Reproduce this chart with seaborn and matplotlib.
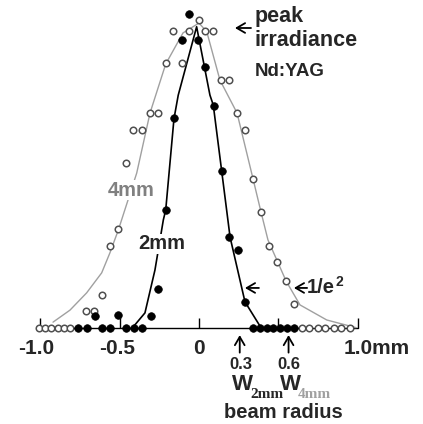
import matplotlib
matplotlib.use("Agg")
import matplotlib.pyplot as plt
import seaborn as sns
import pandas as pd

# fitted profile lines (beam radius in mm, normalised irradiance)
fit_4mm_x = [-0.921, -0.814, -0.709, -0.614, -0.562, -0.509, -0.393, -0.309, -0.210, -0.101, 0.0,
             0.049, 0.132, 0.240, 0.341, 0.391, 0.435, 0.549, 0.637, 0.806, 0.991]
fit_4mm_y = [0.019, 0.058, 0.114, 0.179, 0.244, 0.318, 0.503, 0.698, 0.857, 0.958, 0.990,
             0.962, 0.805, 0.698, 0.484, 0.377, 0.286, 0.153, 0.075, 0.026, 0.001]
fit_2mm_x = [-0.416, -0.341, -0.278, -0.225, -0.210, -0.158, -0.131, -0.015, 0.069, 0.090,
             0.143, 0.196, 0.290, 0.385]
fit_2mm_y = [0.003, 0.049, 0.188, 0.351, 0.383, 0.679, 0.756, 0.978, 0.756, 0.724,
             0.510, 0.295, 0.085, 0.006]

# measured points, 2mm aperture (filled)
meas_2mm_x = [-0.061, -0.107, -0.008, 0.040, 0.095, -0.158, 0.143, -0.210, 0.191, 0.248,
              -0.257, 0.290, -0.656, -0.509, -0.305,
              -0.762, -0.709, -0.614, -0.562, -0.461, -0.410, -0.358,
              0.339, 0.382, 0.426, 0.470, 0.514, 0.558, 0.601]
meas_2mm_y = [1.018, 0.935, 0.935, 0.848, 0.721, 0.682, 0.510, 0.383, 0.296, 0.253,
              0.126, 0.085, 0.040, 0.042, 0.040,
              0, 0, 0, 0, 0, 0, 0,
              0, 0, 0, 0, 0, 0, 0]

# measured points, 4mm aperture (open)
meas_4mm_x = [0.002, -0.162, -0.061, 0.040, 0.090, -0.208, -0.109, 0.136, 0.189, -0.309,
              -0.259, 0.242, -0.415, -0.362, 0.290, -0.461, 0.343, 0.391, -0.509, -0.562,
              0.444, 0.490, 0.549, -0.614, 0.601, -0.713, -0.662,
              -1.009, -0.970, -0.931, -0.892, -0.853, -0.814,
              0.648, 0.697, 0.748, 0.798, 0.849, 0.899, 0.953]
meas_4mm_y = [1.0, 0.964, 0.964, 0.964, 0.964, 0.859, 0.859, 0.804, 0.804, 0.698,
              0.698, 0.697, 0.643, 0.643, 0.643, 0.536, 0.483, 0.376, 0.320, 0.267,
              0.267, 0.215, 0.153, 0.107, 0.077, 0.056, 0.056,
              0, 0, 0, 0, 0, 0,
              0, 0, 0, 0, 0, 0, 0]

tick_pos = [-1.0, -0.5, 0.0, 0.5, 1.0]
tick_labels = ["-1.0", "-0.5", "0", "", "1.0mm"]

sns.set_style("white")
plt.rcParams["font.family"] = ["Liberation Sans", "DejaVu Sans"]

fig = plt.figure(figsize=(4.23, 4.24), dpi=100)
ax = fig.add_axes([0, 0, 1, 1])

line4 = pd.DataFrame({"x": fit_4mm_x, "y": fit_4mm_y})
line2 = pd.DataFrame({"x": fit_2mm_x, "y": fit_2mm_y})
sns.lineplot(data=line4, x="x", y="y", sort=False, estimator=None, color="#a0a0a0", lw=1.0, ax=ax)
sns.lineplot(data=line2, x="x", y="y", sort=False, estimator=None, color="black", lw=1.2, ax=ax)

# baseline and small ticks
ax.plot([-1.022, 1.0], [0, 0], color="black", lw=1.0, zorder=1)
ax.vlines(tick_pos, 0, 0.032, color="black", lw=1.0, zorder=1)

sns.scatterplot(x=meas_4mm_x, y=meas_4mm_y, marker="o", s=22, facecolor="white",
                edgecolor="#505050", linewidth=1.1, ax=ax, zorder=3)
sns.scatterplot(x=meas_2mm_x, y=meas_2mm_y, marker="o", s=30, color="black",
                edgecolor="black", linewidth=0.5, ax=ax, zorder=4)

for p, lab in zip(tick_pos, tick_labels):
    if lab == "1.0mm":
        ax.text(1.123, -0.068, lab, ha="center", va="center", fontsize=15, fontweight="bold")
    elif lab:
        ax.text(p - (0.03 if p == -1.0 else 0.017 if p == -0.5 else 0), -0.068, lab,
                ha="center", va="center", fontsize=15, fontweight="bold")

arrow = dict(arrowstyle="->,head_length=0.6,head_width=0.35", lw=1.3, color="black",
             shrinkA=0, shrinkB=0)
white_box = dict(facecolor="white", edgecolor="none", pad=0.5)

# annotations
ax.text(0.353, 1.011, "peak", ha="left", va="center", fontsize=15.5, fontweight="bold")
ax.text(0.353, 0.932, "irradiance", ha="left", va="center", fontsize=15.5, fontweight="bold")
ax.text(0.353, 0.834, "Nd:YAG", ha="left", va="center", fontsize=13.5, fontweight="bold")
ax.annotate("", xy=(0.227, 0.974), xytext=(0.328, 0.974), arrowprops=arrow)

ax.text(-0.426, 0.448, "4mm", ha="center", va="center", fontsize=14.5, fontweight="bold",
        color="#808080", bbox=white_box, zorder=5)
ax.text(-0.237, 0.273, "2mm", ha="center", va="center", fontsize=14.5, fontweight="bold",
        bbox=white_box, zorder=5)

ax.annotate("", xy=(0.290, 0.130), xytext=(0.378, 0.130), arrowprops=arrow)
ax.annotate("", xy=(0.599, 0.130), xytext=(0.682, 0.130), arrowprops=arrow)
ax.text(0.682, 0.130, "1/e", ha="left", va="center", fontsize=14.5, fontweight="bold")
ax.text(0.862, 0.150, "2", ha="left", va="center", fontsize=10, fontweight="bold")

# beam radius markers
ax.annotate("", xy=(0.257, -0.023), xytext=(0.257, -0.080), arrowprops=arrow)
ax.annotate("", xy=(0.565, -0.023), xytext=(0.565, -0.080), arrowprops=arrow)
ax.text(0.262, -0.120, "0.3", ha="center", va="center", fontsize=12, fontweight="bold")
ax.text(0.570, -0.120, "0.6", ha="center", va="center", fontsize=12, fontweight="bold")

ax.text(0.272, -0.183, "W", ha="center", va="center", fontsize=16, fontweight="bold")
ax.text(0.428, -0.216, "2mm", ha="center", va="center", fontsize=11, fontweight="bold",
        family="Liberation Serif")
ax.text(0.577, -0.183, "W", ha="center", va="center", fontsize=16, fontweight="bold")
ax.text(0.727, -0.216, "4mm", ha="center", va="center", fontsize=11, fontweight="bold",
        color="#a0a0a0", family="Liberation Serif")
ax.text(0.533, -0.274, "beam radius", ha="center", va="center", fontsize=14.5, fontweight="bold")

ax.set_xlim(-1.2555, 1.4132)
ax.set_ylim(-0.3117, 1.0649)
ax.axis("off")

fig.savefig("out.png", dpi=100)
